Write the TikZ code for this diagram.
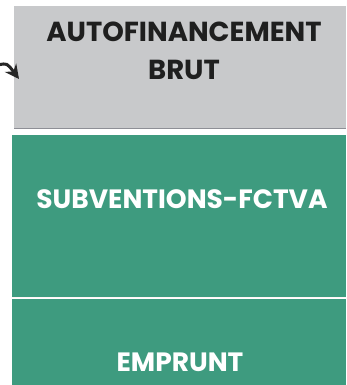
\documentclass[tikz,border=0pt]{standalone}
\usepackage{fontspec}
\setmainfont{Poppins}
\usetikzlibrary{arrows.meta}
\definecolor{boxgray}{HTML}{C8C9CB}
\definecolor{boxgreen}{HTML}{3E9B7F}
\definecolor{shadowgray}{HTML}{8E8F96}
\tikzset{
  graybox/.style={fill=boxgray, draw=none, minimum width=332pt, minimum height=122pt, inner sep=0pt, anchor=north west},
  greenbox/.style={fill=boxgreen, draw=none, minimum width=334pt, inner sep=0pt, anchor=north west},
  darklabel/.style={text=black!88, font=\fontsize{27.5}{38}\selectfont\bfseries, align=center},
  whitelabel/.style={text=white, font=\fontsize{26.5}{30}\selectfont\bfseries, align=center},
}
\begin{document}
\begin{tikzpicture}[x=1pt,y=-1pt]
\useasboundingbox[fill=white] (0,0) rectangle (346,385);
\node[graybox] (auto) at (14,6) {};
\draw[shadowgray, line width=1.5pt] (auto.south west) -- (auto.south east);
\node[greenbox, minimum height=162pt] (sub) at (12,135) {};
\node[greenbox, minimum height=90pt] (emp) at (12,299) {};
\draw[white!85!pink, line width=1pt] (sub.south west) -- (sub.south east);
\node[darklabel] (t1) at (184,51) {AUTOFINANCEMENT\\BRUT};
\node[whitelabel] (t2) at (182,199) {SUBVENTIONS-FCTVA};
\node[whitelabel] (t3) at (180,362) {EMPRUNT};
\coordinate (arrstart) at (-2,65);
\coordinate (arrtip) at (19,79);
\draw[line width=3pt, black!85, -{Stealth[length=14pt,width=14pt]}] (arrstart) .. controls (7,63) .. (arrtip);
\end{tikzpicture}
\end{document}
